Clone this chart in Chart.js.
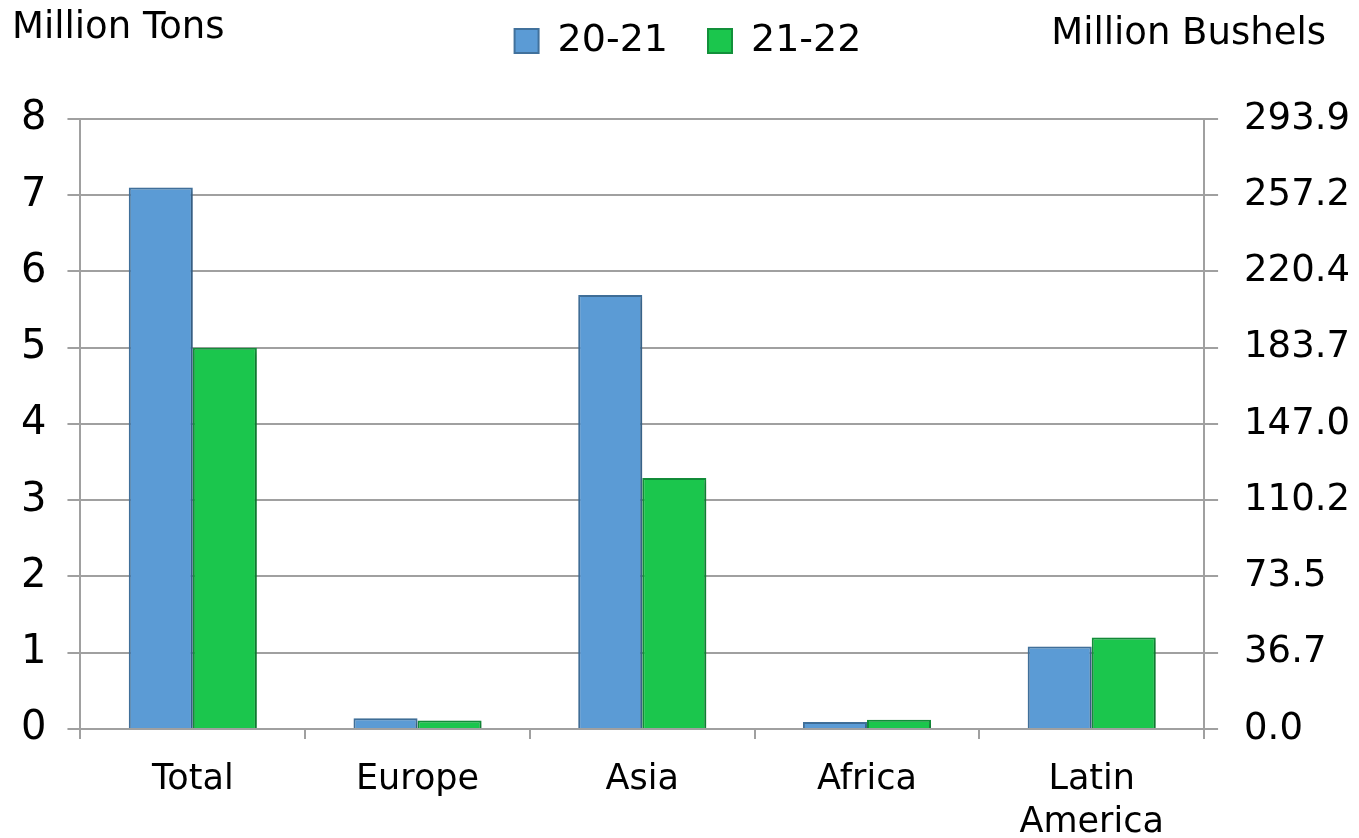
<!DOCTYPE html>
<html>
<head>
<meta charset="utf-8">
<script src="https://cdn.jsdelivr.net/npm/chart.js@4.4.1/dist/chart.umd.min.js"></script>
<style>
html, body { margin: 0; padding: 0; background: #fff; overflow: hidden; }
#wrap { width: 1359px; height: 863px; }
</style>
</head>
<body>
<div id="wrap"><canvas id="chart"></canvas></div>
<script>
// exports by region, million tons
const regions = ["Total", "Europe", "Asia", "Africa", ["Latin", "America"]];
const season2021 = [7.1, 0.14, 5.69, 0.09, 1.08];
const season2122 = [5.0, 0.11, 3.29, 0.12, 1.2];
const seriesNames = ["20-21", "21-22"];
// right axis = same scale shown in million bushels
const bushelLabels = ["0.0", "36.7", "73.5", "110.2", "147.0", "183.7", "220.4", "257.2", "293.9"];

const FONT = "'DejaVu Sans', sans-serif";
const GRID = "#a0a0a0";

// unit captions over both axes
const axisCaptions = {
    id: "axisCaptions",
    afterDraw(chart) {
        const ctx = chart.ctx;
        ctx.save();
        ctx.fillStyle = "#000";
        ctx.font = "37px " + FONT;
        ctx.textBaseline = "middle";
        ctx.textAlign = "left";
        ctx.fillText("Million Tons", 12, 28);
        ctx.textAlign = "right";
        ctx.fillText("Million Bushels", chart.width - 33, 34);
        ctx.restore();
    },
};

// soft shadow under the bars
const barShadow = {
    id: "barShadow",
    beforeDatasetsDraw(chart) {
        const ctx = chart.ctx;
        ctx.save();
        ctx.shadowColor = "rgba(0,0,0,0.25)";
        ctx.shadowBlur = 5;
        ctx.shadowOffsetX = 2;
        ctx.shadowOffsetY = 2;
    },
    afterDatasetsDraw(chart) {
        chart.ctx.restore();
    },
};

new Chart(document.getElementById("chart"), {
    type: "bar",
    data: {
        labels: regions,
        datasets: [
            {
                label: seriesNames[0],
                data: season2021,
                backgroundColor: "#5b9bd5",
                borderColor: "#41719c",
                borderWidth: 2,
                categoryPercentage: 0.57,
                barPercentage: 1,
            },
            {
                label: seriesNames[1],
                data: season2122,
                backgroundColor: "#1bc64d",
                borderColor: "#12903a",
                borderWidth: 2,
                categoryPercentage: 0.57,
                barPercentage: 1,
            },
        ],
    },
    options: {
        responsive: true,
        maintainAspectRatio: false,
        animation: false,
        layout: { padding: { left: 0, right: -17, top: -18, bottom: 0 } },
        plugins: {
            tooltip: { enabled: false },
            legend: {
                position: "top",
                align: "center",
                labels: {
                    boxWidth: 24,
                    boxHeight: 24,
                    padding: 40,
                    color: "#000",
                    font: { family: FONT, size: 38 },
                },
            },
        },
        scales: {
            x: {
                grid: {
                    offset: true,
                    drawOnChartArea: false,
                    drawTicks: true,
                    tickLength: 10,
                    color: GRID,
                    lineWidth: 2,
                },
                border: { display: true, color: GRID, width: 2 },
                ticks: {
                    color: "#000",
                    padding: 19,
                    maxRotation: 0,
                    font: { family: FONT, size: 35, lineHeight: 1.23 },
                },
            },
            // empty top band: space between legend and plot
            xTop: {
                type: "category",
                position: "top",
                grid: { display: false },
                border: { display: false },
                ticks: { display: false },
                afterFit: (scale) => {
                    scale.height = 49;
                },
            },
            y: {
                position: "left",
                min: 0,
                max: 8,
                ticks: {
                    stepSize: 1,
                    color: "#000",
                    padding: 21,
                    font: { family: FONT, size: 40 },
                },
                grid: { color: GRID, lineWidth: 2, tickLength: 13 },
                border: { display: true, color: GRID, width: 2 },
            },
            y2: {
                position: "right",
                min: 0,
                max: 8,
                ticks: {
                    stepSize: 1,
                    color: "#000",
                    padding: 26,
                    font: { family: FONT, size: 37 },
                    callback: (v, i) => bushelLabels[i],
                },
                grid: { drawOnChartArea: false, color: GRID, lineWidth: 2, tickLength: 14 },
                border: { display: true, color: GRID, width: 2 },
            },
        },
    },
    plugins: [axisCaptions, barShadow],
});
</script>
</body>
</html>
